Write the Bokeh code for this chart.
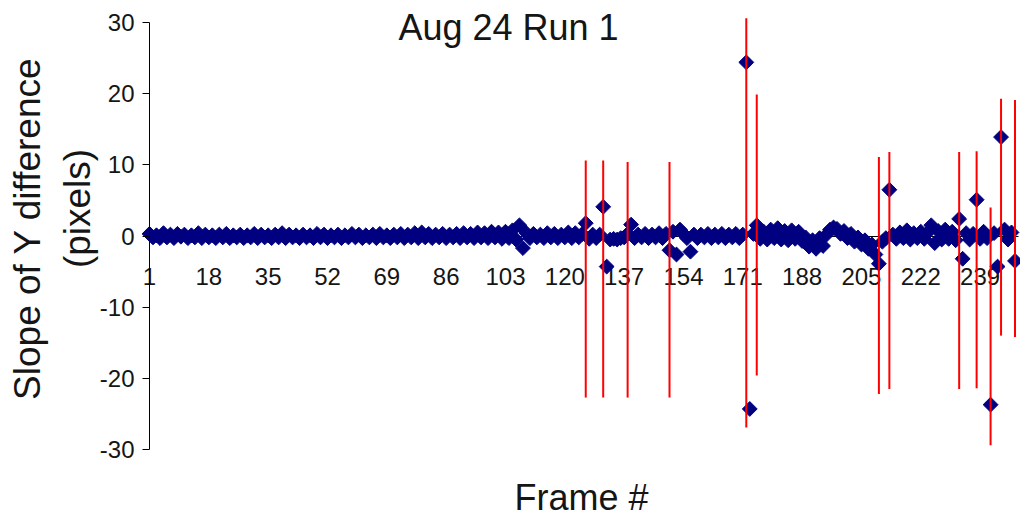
import numpy as np
from bokeh.plotting import figure
from bokeh.models import Range1d, FixedTicker, Label, ColumnDataSource
from bokeh.embed import file_html
from bokeh.resources import INLINE

# Slope of the Y difference for each frame (pixels)
slope = [
    0.3, -0.2, 0.1, -0.3, 0.4, -0.2, 0.2, -0.3, 0.3, -0.1, 0.2, -0.3, 0.1, -0.2, 0.4, -0.3, 0.2,
    -0.2, 0.1, -0.3, 0.2, -0.2, 0.3, -0.3, 0.1, -0.2, 0.2, -0.3, 0.1, -0.2, 0.3, -0.3, 0.2, -0.2,
    0.1, -0.3, 0.2, -0.2, 0.4, -0.3, 0.2, -0.2, 0.1, -0.3, 0.2, -0.2, 0.1, -0.3, 0.3, -0.2, 0.2,
    -0.3, 0.1, -0.2, 0.2, -0.3, 0.1, -0.2, 0.3, -0.2, 0.2, -0.3, 0.1, -0.2, 0.2, -0.3, 0.3, -0.2,
    0.1, -0.3, 0.2, -0.2, 0.3, -0.3, 0.2, -0.2, 0.4, -0.3, 0.5, -0.2, 0.3, -0.3, 0.2, -0.2, 0.3,
    -0.3, 0.2, -0.2, 0.3, -0.3, 0.4, -0.2, 0.3, -0.3, 0.5, -0.2, 0.4, -0.3, 0.6, -0.2, 0.5, -0.4,
    0.6, -0.3, 0.8, -0.5, 1.5, -1.7, 0.4, -0.3, 0.3, -0.2, 0.2, -0.3, 0.4, -0.2, 0.3, -0.3, 0.2,
    -0.2, 0.5, -0.3, 0.4, -0.2, 0.3, 1.8, -0.4, 0.2, -0.3, 0.2, 4.1, -4.3, -0.5, -0.4, -0.5, -0.3,
    -0.2, 0.3, 1.6, -0.3, 0.2, -0.2, 0.3, -0.3, 0.2, -0.2, 0.4, -0.3, 0.3, -2.0, 0.6, -2.6, 0.9,
    0.3, -0.3, -2.2, 0.2, -0.3, 0.2, -0.2, 0.3, -0.3, 0.2, -0.2, 0.3, -0.3, 0.2, -0.2, 0.3, -0.3,
    0.2, 24.4, -24.3, 0.3, 1.5, -0.4, 0.6, -0.5, 0.9, -0.3, 1.1, -0.5, 0.7, -0.6, 0.8, -0.4, 0.6,
    -0.7, -0.2, -1.5, -0.6, -1.8, -0.3, -1.4, 0.2, 0.9, 1.2, 1.0, 0.3, 0.7, -0.3, 0.3, -0.8, -0.2,
    -1.2, -0.6, -1.8, -1.2, -2.6, -3.9, -0.8, -0.3, 6.5, 0.2, -0.4, 0.5, -0.3, 0.8, -0.5, 0.4, -0.3,
    0.6, -0.4, 0.5, 1.5, -1.0, 0.7, -0.5, 0.9, -0.4, 0.6, -0.6, 2.4, -3.2, 0.4, -0.5, 0.3, 5.1,
    -0.4, 0.6, -0.3, -23.7, 0.4, -4.3, 13.9, 0.9, -0.5, 0.5, -3.5,
]
frames = list(range(1, len(slope) + 1))

# Error bars drawn on selected frames: frame, lower end, upper end
bar_frame = [126, 131, 138, 150, 172, 175, 210, 213, 233, 238, 242, 245, 249]
bar_low = [-22.7, -22.7, -22.7, -22.7, -26.9, -19.6, -22.2, -21.5, -21.5, -21.4, -29.4, -14.0, -14.2]
bar_high = [10.6, 10.6, 10.4, 10.4, 30.6, 19.9, 11.1, 11.8, 11.8, 11.9, 4.0, 19.3, 19.1]

x_ticks = list(range(1, 240, 17))
y_ticks = [-30, -20, -10, 0, 10, 20, 30]

FONT = "Liberation Sans"
INK = "#151515"

# plot area geometry (pixels) inside a 1020 x 520 canvas
W, H = 1020, 520
AX_LEFT, AX_RIGHT, AX_TOP, AX_BOTTOM = 149, 1018, 22, 449
X_LO, X_HI = 1, 250
Y_LO, Y_HI = -30, 30
kx = (AX_RIGHT - AX_LEFT) / (X_HI - X_LO)
ky = (AX_BOTTOM - AX_TOP) / (Y_HI - Y_LO)


def sx(px):
    return X_LO + (px - AX_LEFT) / kx


def sy(py):
    return Y_HI - (py - AX_TOP) / ky


p = figure(
    frame_width=W, frame_height=H,
    min_border=0,
    x_range=Range1d(sx(0), sx(W)), y_range=Range1d(sy(H), sy(0)),
    output_backend="svg", toolbar_location=None, tools="",
    background_fill_color="white", border_fill_color="white",
)
p.outline_line_color = None
p.grid.visible = False

# horizontal category axis sits on the zero line
p.xaxis.fixed_location = 0
p.xaxis.bounds = (X_LO, X_HI)
p.xaxis.level = "underlay"
p.xaxis.ticker = FixedTicker(ticks=x_ticks)
p.xaxis.major_tick_in = 0
p.xaxis.major_tick_out = 0
p.xaxis.minor_tick_line_color = None
p.xaxis.major_label_standoff = 32
p.xaxis.major_label_text_font = FONT
p.xaxis.major_label_text_font_size = "24px"
p.xaxis.major_label_text_color = INK
p.xaxis.axis_line_color = "black"

# vertical value axis on the first frame
p.yaxis.fixed_location = X_LO
p.yaxis.bounds = (Y_LO, Y_HI)
p.yaxis.ticker = FixedTicker(ticks=y_ticks)
p.yaxis.major_label_overrides = {t: str(t) for t in y_ticks}
p.yaxis.major_tick_in = 0
p.yaxis.major_tick_out = 7
p.yaxis.minor_tick_line_color = None
p.yaxis.major_label_standoff = 8
p.yaxis.major_label_text_font = FONT
p.yaxis.major_label_text_font_size = "24px"
p.yaxis.major_label_text_color = INK
p.yaxis.axis_line_color = "black"

src = ColumnDataSource(dict(x=frames, y=slope))
p.scatter("x", "y", source=src, marker="square", angle=np.pi / 4, size=10.5,
          fill_color="#000080", line_color="#000080")

bars = ColumnDataSource(dict(x=bar_frame, lo=bar_low, hi=bar_high))
p.segment(x0="x", y0="lo", x1="x", y1="hi", source=bars, line_color="#ff0000", line_width=2)

text_style = dict(text_align="center", text_baseline="middle", text_font=FONT,
                  text_color=INK)

p.add_layout(Label(x=sx(508), y=sy(27), text="Aug 24 Run 1", text_font_size="36px",
                   **text_style))
p.add_layout(Label(x=sx(581), y=sy(497), text="Frame #", text_font_size="36px",
                   **text_style))
p.add_layout(Label(x=sx(27), y=sy(228), text="Slope of Y difference", angle=np.pi / 2,
                   text_font_size="37px", **text_style))
p.add_layout(Label(x=sx(77), y=sy(208), text="(pixels)", angle=np.pi / 2,
                   text_font_size="37px", **text_style))

open("out.html", "w").write(file_html(p, INLINE))
